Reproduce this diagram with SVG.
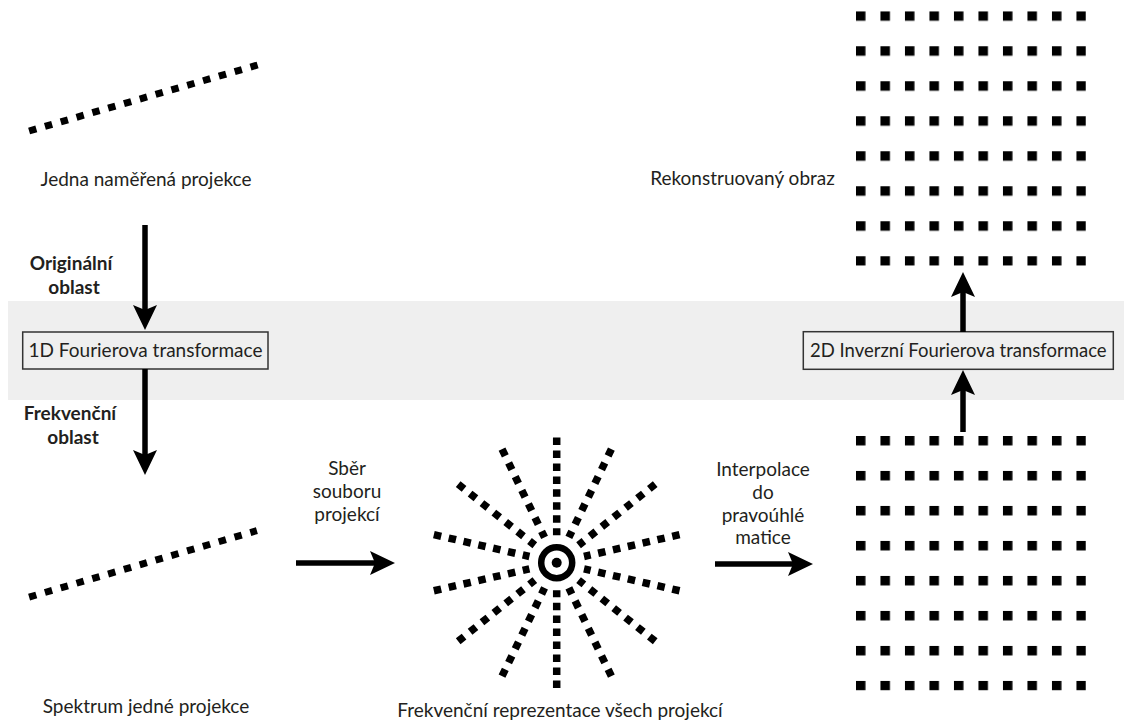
<svg xmlns="http://www.w3.org/2000/svg" xmlns:xlink="http://www.w3.org/1999/xlink" width="1124" height="722" viewBox="0 0 1124 722">
<style>
  .t { font-family: Lato, "Noto Sans", "Liberation Sans", sans-serif; font-size: 19px; fill: #231f20; text-anchor: middle; }
  .b { font-weight: bold; font-size: 19px; }
  .box { fill: #efefef; stroke: #333333; stroke-width: 1.5; }
  .arr { stroke: #000; fill: none; stroke-width: 5.5; }
  .dash { stroke: #000; stroke-width: 7; fill: none; stroke-dasharray: 7.5 8.96; }
  .ray { stroke: #000; stroke-width: 7.5; fill: none; stroke-dasharray: 7.5 7.7; }
  .rayv { stroke: #000; stroke-width: 7.5; fill: none; stroke-dasharray: 7.5 5.46; }
</style>
<defs>
  <marker id="head" markerUnits="userSpaceOnUse" markerWidth="28" markerHeight="26" refX="8" refY="12" orient="auto" viewBox="0 0 28 26">
    <path d="M0,0 L25,12 L0,24 L5,12 z" fill="#000"/>
  </marker>
  <pattern id="dots" patternUnits="userSpaceOnUse" x="0" y="0" width="24.5" height="35">
    <rect x="0" y="0" width="9.5" height="9.5" fill="#000"/>
  </pattern>
  <line id="r" class="ray" x1="126" y1="0" x2="28" y2="0"/>
  <line id="rv" class="rayv" x1="125.2" y1="0" x2="27.5" y2="0"/>
</defs>

<rect id="band" x="8" y="301" width="1116" height="99" fill="#efefef"/>

<g id="projekce">
  <line class="dash" x1="29.1" y1="131.0" x2="257.6" y2="65.0"/>
  <text class="t" x="146" y="186">Jedna naměřená projekce</text>
</g>

<g id="spektrum">
  <line class="dash" x1="29.1" y1="597.1" x2="256.9" y2="530.6"/>
  <text class="t" x="146" y="713">Spektrum jedné projekce</text>
</g>

<g id="labels-oblast">
  <text class="t b" x="71" y="270">Originální</text>
  <text class="t b" x="74" y="293.5">oblast</text>
  <text class="t b" x="70" y="420">Frekvenční</text>
  <text class="t b" x="73" y="443.5">oblast</text>
</g>

<g id="ft1d">
  <rect class="box" x="22.7" y="332" width="245.3" height="37"/>
  <text class="t" x="145.5" y="357">1D Fourierova transformace</text>
</g>

<g id="ift2d">
  <rect class="box" x="803.3" y="331.7" width="310" height="37.6"/>
  <text class="t" x="958.3" y="357" style="font-size:18.5px">2D Inverzní Fourierova transformace</text>
</g>

<g id="vsechny">
  <g transform="translate(556.7 562.7)">
    <use xlink:href="#rv" transform="rotate(90)"/>
    <use xlink:href="#r" transform="rotate(115.714)"/>
    <use xlink:href="#r" transform="rotate(141.429)"/>
    <use xlink:href="#r" transform="rotate(167.143)"/>
    <use xlink:href="#r" transform="rotate(192.857)"/>
    <use xlink:href="#r" transform="rotate(218.571)"/>
    <use xlink:href="#r" transform="rotate(244.286)"/>
    <use xlink:href="#rv" transform="rotate(270)"/>
    <use xlink:href="#r" transform="rotate(295.714)"/>
    <use xlink:href="#r" transform="rotate(321.429)"/>
    <use xlink:href="#r" transform="rotate(347.143)"/>
    <use xlink:href="#r" transform="rotate(12.857)"/>
    <use xlink:href="#r" transform="rotate(38.571)"/>
    <use xlink:href="#r" transform="rotate(64.286)"/>
    <circle cx="0" cy="0" r="15.5" fill="none" stroke="#000" stroke-width="6.5"/>
    <circle cx="0" cy="0" r="5" fill="#000"/>
  </g>
  <text class="t" x="560" y="717">Frekvenční reprezentace všech projekcí</text>
</g>

<g id="matice">
  <rect x="0" y="0" width="230" height="254.5" fill="url(#dots)" transform="translate(855.95 435.95)"/>
</g>

<g id="obraz">
  <rect x="0" y="0" width="230" height="254.5" fill="url(#dots)" transform="translate(855.95 11.25)"/>
  <text class="t" x="742.5" y="185">Rekonstruovaný obraz</text>
</g>

<g id="texty-sipek">
  <text class="t" x="347" y="475">Sběr</text>
  <text class="t" x="347" y="498">souboru</text>
  <text class="t" x="347" y="521">projekcí</text>
  <text class="t" x="763" y="476">Interpolace</text>
  <text class="t" x="763" y="498.5">do</text>
  <text class="t" x="763" y="521.5">pravoúhlé</text>
  <text class="t" x="763" y="544">matice</text>
</g>

<g id="connectors">
  <line class="arr" x1="145" y1="225" x2="145" y2="313" marker-end="url(#head)"/>
  <line class="arr" x1="145" y1="369" x2="145" y2="458" marker-end="url(#head)"/>
  <line class="arr" x1="296" y1="563" x2="378" y2="563" marker-end="url(#head)"/>
  <line class="arr" x1="715" y1="564" x2="796" y2="564" marker-end="url(#head)"/>
  <line class="arr" x1="963" y1="332" x2="963" y2="289" marker-end="url(#head)"/>
  <line class="arr" x1="963" y1="432" x2="963" y2="387" marker-end="url(#head)"/>
</g>
</svg>
